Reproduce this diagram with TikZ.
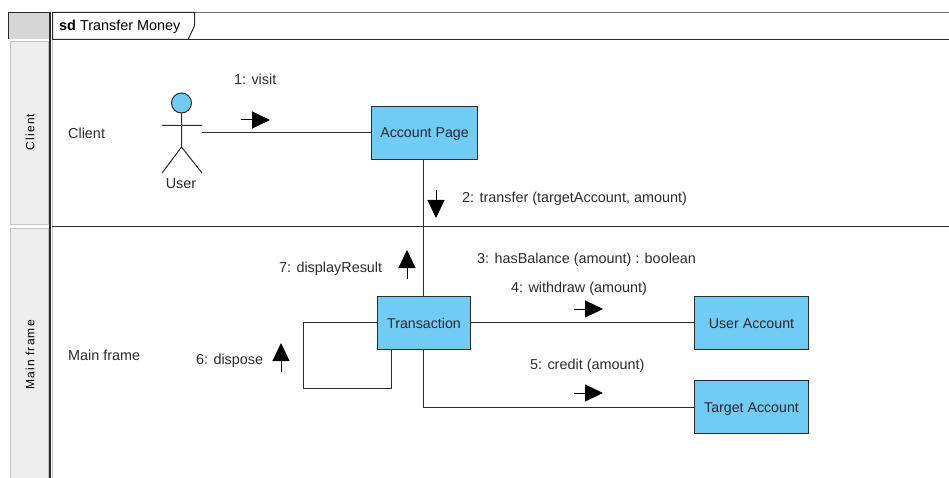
\documentclass[tikz,border=0pt]{standalone}
\usepackage{fontspec}
\setmainfont{Liberation Sans}
\newfontfamily\lanefont[LetterSpace=10]{Liberation Sans}
\usetikzlibrary{arrows.meta}
\definecolor{boxblue}{HTML}{71CCF5}
\definecolor{lanegray}{HTML}{EEEEEE}
\definecolor{laneedge}{HTML}{C4C4C4}
\definecolor{ink}{HTML}{2B2B2B}
\tikzset{
  x=1pt,y=-1pt,
  obj/.style={draw=ink,line width=1pt,fill=boxblue,minimum height=53pt,inner sep=0pt,text height=10.4pt,text depth=0.4pt,font=\fontsize{14.2pt}{16pt}\selectfont,text=black!85},
  lbl/.style={anchor=base west,inner sep=0pt,font=\fontsize{14.4pt}{16pt}\selectfont,text=ink},
  link/.style={draw=ink,line width=1pt},
  msg/.style={draw=black,line width=1pt,-{Triangle[length=18pt,width=17pt]}},
  lane/.style={draw=laneedge,fill=lanegray,line width=1pt},
  lanelbl/.style={rotate=90,inner sep=0pt,font=\lanefont\fontsize{12pt}{14pt}\selectfont,text=black},
}
\begin{document}
\begin{tikzpicture}
\useasboundingbox (0,0) rectangle (949,478);
% frame
\fill[fill=laneedge!70] (8,12) rectangle (50,39);
\draw[ink,line width=1pt] (8.5,39) -- (8.5,12.5) -- (50,12.5);
\draw[lane] (10.5,41.5) rectangle (48.5,224.5);
\fill[lanegray] (10.5,228.5) rectangle (48.5,478);
\draw[laneedge,line width=1pt] (10.5,478) -- (10.5,228.5) -- (48.5,228.5) -- (48.5,478);
\draw[ink,line width=1.2pt] (50,12) -- (50,478);
\draw[laneedge,line width=1pt] (52,12) -- (52,478);
\draw[ink!70,line width=1pt] (52,12.5) -- (949,12.5);
\draw[ink,line width=1.3pt] (52,39.5) -- (949,39.5);
\draw[ink,line width=1pt] (52,226.5) -- (949,226.5);
\node[lanelbl] (laneclient) at (30,132) {Client};
\node[lanelbl] (lanemain) at (30,355) {Main frame};
% tab
\draw[fill=white,draw=ink,line width=1pt] (52.5,12.5) -- (194.5,12.5) -- (194.5,26) -- (188,39.5) -- (52.5,39.5) -- cycle;
\node[lbl,text=black] (title) at (59,31) {\textbf{sd} Transfer Money};
% lifeline labels
\node[lbl] (client) at (68,139) {Client};
\node[lbl] (mainframe) at (68,360) {Main frame};
% actor
\node[circle,draw=ink,fill=boxblue,line width=1pt,minimum size=20pt,inner sep=0pt] (head) at (181.5,103) {};
\coordinate (hip) at (181.5,147);
\coordinate (armL) at (162,125.5);
\coordinate (armR) at (202,125.5);
\coordinate (legL) at (162,173);
\coordinate (legR) at (202,173);
\draw[link] (head) -- (hip) (armL) -- (armR) (legL) -- (hip) -- (legR);
\node[lbl,anchor=base] (user) at (181,189) {User};
% objects
\node[obj,minimum width=106pt] (page) at (424.5,133) {Account Page};
\node[obj,minimum width=93pt] (tx) at (424,323) {Transaction};
\node[obj,minimum width=114pt] (ua) at (751.5,323) {User Account};
\node[obj,minimum width=114pt] (ta) at (751.5,407) {Target Account};
% links
\coordinate (userport) at (202,132.5);
\draw[link] (userport) -- (userport -| page.west);
\draw[link] ([xshift=-0.5pt]tx.north |- page.south) -- ([xshift=-0.5pt]tx.north);
\draw[link] ([yshift=0.5pt]tx.east) -- ([yshift=0.5pt]ua.west);
\draw[link] ([xshift=-0.5pt]tx.south) |- ([yshift=-0.5pt]ta.west);
\coordinate (loopA) at (303.5,322.5);
\coordinate (loopB) at (303.5,388.5);
\coordinate (loopC) at (391.5,388.5);
\draw[link] ([yshift=0.5pt]tx.west) -- (loopA) -- (loopB) -- (loopC) -- (loopC |- tx.south);
% message arrows
\coordinate (m1a) at (241,120); \coordinate (m1b) at (270,120);
\coordinate (m2a) at (436,190); \coordinate (m2b) at (436,218);
\coordinate (m4a) at (574,309); \coordinate (m4b) at (603,309);
\coordinate (m5a) at (574,393); \coordinate (m5b) at (603,393);
\coordinate (m6a) at (281,372); \coordinate (m6b) at (281,343);
\coordinate (m7a) at (407,279); \coordinate (m7b) at (407,250);
\draw[msg] (m1a) -- (m1b);
\draw[msg] (m2a) -- (m2b);
\draw[msg] (m4a) -- (m4b);
\draw[msg] (m5a) -- (m5b);
\draw[msg] (m6a) -- (m6b);
\draw[msg] (m7a) -- (m7b);
% message labels
\node[lbl] (l1) at (234,85) {1: visit};
\node[lbl] (l2) at (462,203) {2: transfer (targetAccount, amount)};
\node[lbl] (l3) at (477,263) {3: hasBalance (amount) : boolean};
\node[lbl] (l4) at (511,292) {4: withdraw (amount)};
\node[lbl] (l5) at (530,369) {5: credit (amount)};
\node[lbl] (l6) at (196,364) {6: dispose};
\node[lbl] (l7) at (279,272) {7: displayResult};
\end{tikzpicture}
\end{document}
